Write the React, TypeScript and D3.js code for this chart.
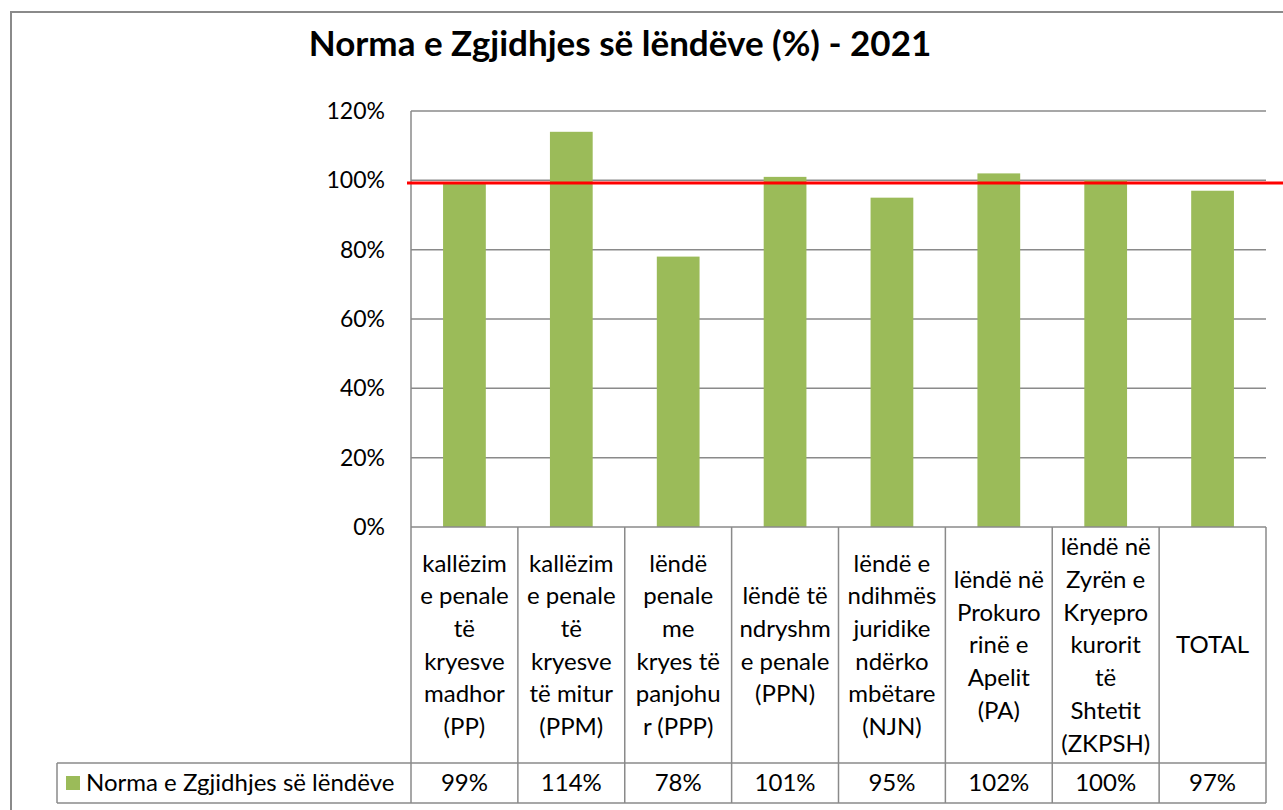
import * as d3 from "d3";

const categoryLines = [
  ["kallëzim", "e penale", "të", "kryesve", "madhor", "(PP)"],
  ["kallëzim", "e penale", "të", "kryesve", "të mitur", "(PPM)"],
  ["lëndë", "penale", "me", "kryes të", "panjohu", "r (PPP)"],
  ["lëndë të", "ndryshm", "e penale", "(PPN)"],
  ["lëndë e", "ndihmës", "juridike", "ndërko", "mbëtare", "(NJN)"],
  ["lëndë në", "Prokuro", "rinë e", "Apelit", "(PA)"],
  ["lëndë në", "Zyrën e", "Kryepro", "kurorit", "të", "Shtetit", "(ZKPSH)"],
  ["TOTAL"],
];
const values = [99, 114, 78, 101, 95, 102, 100, 97];
const yTicks = [0, 20, 40, 60, 80, 100, 120];
const seriesName = "Norma e Zgjidhjes së lëndëve";
const title = "Norma e Zgjidhjes së lëndëve (%) - 2021";
const referenceValue = 99.2;

const W = 1283;
const H = 810;
const PLOT = { left: 411, right: 1266, top: 111, bottom: 527 };
const HEADER_BOTTOM = 763;
const TABLE_BOTTOM = 803;
const LEGEND_LEFT = 57;
const FONT = "Lato, 'Open Sans', sans-serif";
const GRID = "#8a8a8a";
const BAR = "#9BBB59";
const TEXT_SIZE = 24;

export default function App() {
  const keys = values.map((_, i) => String(i));
  const x = d3
    .scaleBand()
    .domain(keys)
    .range([PLOT.left, PLOT.right])
    .paddingInner(0.6)
    .paddingOuter(0.3);
  const y = d3.scaleLinear().domain([0, 120]).range([PLOT.bottom, PLOT.top]);
  const step = x.step();
  const colLeft = (i: number) => PLOT.left + i * step;
  const lineH = 32.7;
  const headerMid = (PLOT.bottom + HEADER_BOTTOM) / 2;
  const rowMid = (HEADER_BOTTOM + TABLE_BOTTOM) / 2;

  return (
    <svg
      width={W}
      height={H}
      style={{ position: "absolute", left: 0, top: 0, background: "#fff" }}
      fontFamily={FONT}
    >
      <rect x={11} y={12} width={W + 10} height={H + 10} fill="#fff" stroke={GRID} strokeWidth={2} />

      <text x={620} y={56} textAnchor="middle" fontSize={35} fontWeight="bold" fill="#000">
        {title}
      </text>

      {/* grid + y axis */}
      {yTicks.map((t) => (
        <g key={t}>
          {t > 0 && (
            <line x1={PLOT.left} x2={PLOT.right} y1={y(t)} y2={y(t)} stroke={GRID} strokeWidth={1.5} />
          )}
          <text x={385} y={y(t)} dy="0.35em" textAnchor="end" fontSize={23} fill="#000">
            {t}%
          </text>
        </g>
      ))}
      <line x1={PLOT.left} x2={PLOT.left} y1={PLOT.top} y2={TABLE_BOTTOM} stroke={GRID} strokeWidth={1.5} />

      {/* bars */}
      {values.map((v, i) => (
        <rect
          key={i}
          x={x(String(i))}
          width={x.bandwidth()}
          y={y(v)}
          height={y(0) - y(v)}
          fill={BAR}
        />
      ))}

      {/* reference line */}
      <line
        x1={PLOT.left - 4}
        x2={W}
        y1={y(referenceValue)}
        y2={y(referenceValue)}
        stroke="#FF0000"
        strokeWidth={3}
      />

      {/* data table */}
      <line x1={PLOT.left} x2={PLOT.right} y1={PLOT.bottom} y2={PLOT.bottom} stroke={GRID} strokeWidth={1.5} />
      <line x1={LEGEND_LEFT} x2={PLOT.right} y1={HEADER_BOTTOM} y2={HEADER_BOTTOM} stroke={GRID} strokeWidth={1.5} />
      <line x1={LEGEND_LEFT} x2={PLOT.right} y1={TABLE_BOTTOM} y2={TABLE_BOTTOM} stroke={GRID} strokeWidth={1.5} />
      <line x1={LEGEND_LEFT} x2={LEGEND_LEFT} y1={HEADER_BOTTOM} y2={TABLE_BOTTOM} stroke={GRID} strokeWidth={1.5} />
      {values.map((_, i) => (
        <line
          key={i}
          x1={colLeft(i + 1)}
          x2={colLeft(i + 1)}
          y1={PLOT.bottom}
          y2={TABLE_BOTTOM}
          stroke={GRID}
          strokeWidth={1.5}
        />
      ))}
      {categoryLines.map((lines, i) => {
        const cx = colLeft(i) + step / 2;
        const start = headerMid - ((lines.length - 1) * lineH) / 2;
        return (
          <text key={i} textAnchor="middle" fontSize={TEXT_SIZE} fill="#000">
            {lines.map((l, j) => (
              <tspan key={j} x={cx} y={start + j * lineH} dy="0.35em">
                {l}
              </tspan>
            ))}
          </text>
        );
      })}
      {values.map((v, i) => (
        <text
          key={i}
          x={colLeft(i) + step / 2}
          y={rowMid}
          dy="0.35em"
          textAnchor="middle"
          fontSize={TEXT_SIZE}
          fill="#000"
        >
          {d3.format(".0f")(v)}%
        </text>
      ))}
      <rect x={66} y={rowMid - 7} width={14} height={14} fill={BAR} />
      <text x={86} y={rowMid} dy="0.35em" fontSize={TEXT_SIZE} fill="#000">
        {seriesName}
      </text>
    </svg>
  );
}
